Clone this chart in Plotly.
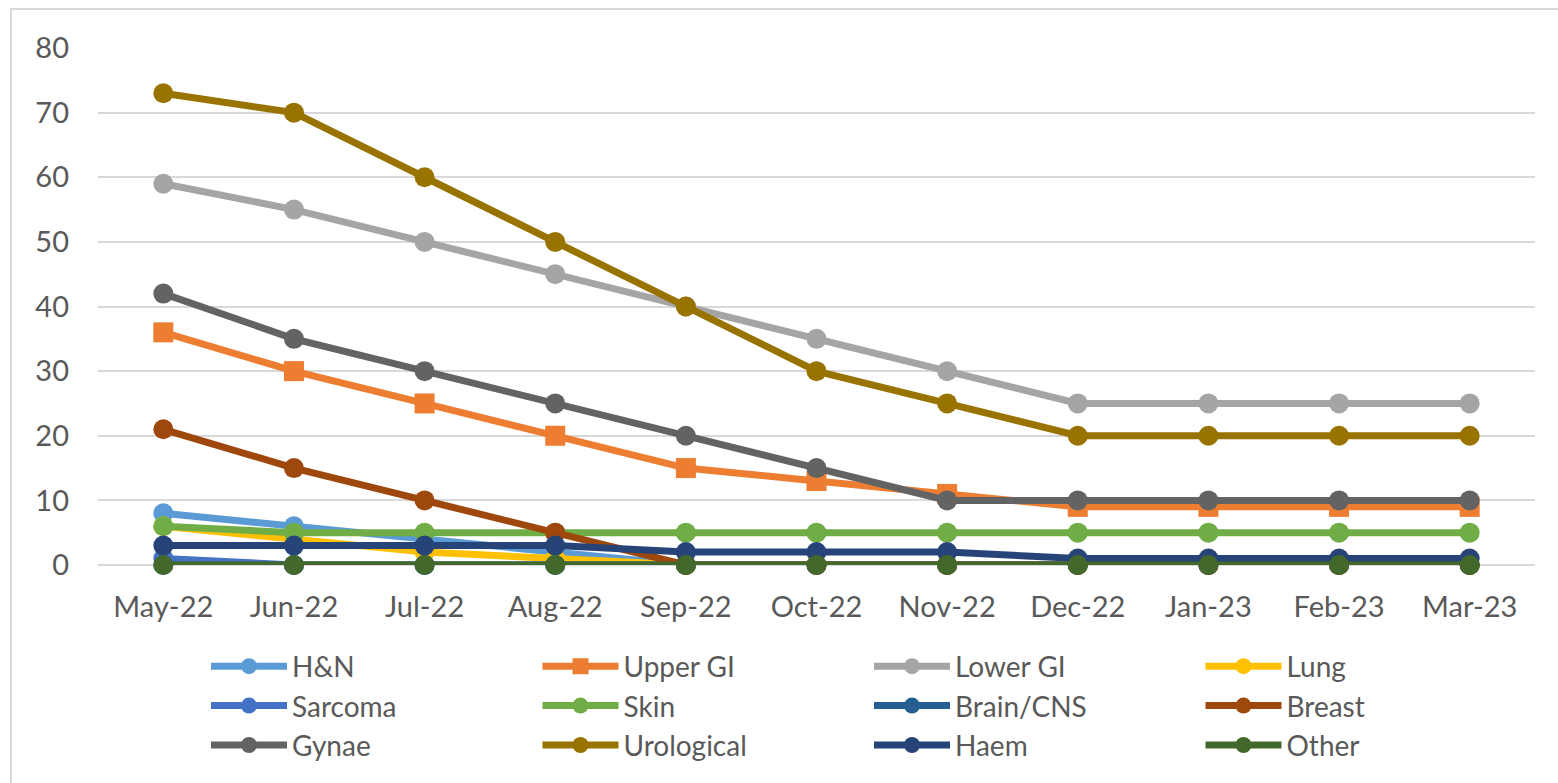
import plotly.graph_objects as go

months = ["May-22", "Jun-22", "Jul-22", "Aug-22", "Sep-22", "Oct-22",
          "Nov-22", "Dec-22", "Jan-23", "Feb-23", "Mar-23"]

hn = [8, 6, 4, 2, 0, 0, 0, 0, 0, 0, 0]
upper_gi = [36, 30, 25, 20, 15, 13, 11, 9, 9, 9, 9]
lower_gi = [59, 55, 50, 45, 40, 35, 30, 25, 25, 25, 25]
lung = [6, 4, 2, 1, 0, 0, 0, 0, 0, 0, 0]
sarcoma = [1, 0, 0, 0, 0, 0, 0, 0, 0, 0, 0]
skin = [6, 5, 5, 5, 5, 5, 5, 5, 5, 5, 5]
brain_cns = [0, 0, 0, 0, 0, 0, 0, 0, 0, 0, 0]
breast = [21, 15, 10, 5, 0, 0, 0, 0, 0, 0, 0]
gynae = [42, 35, 30, 25, 20, 15, 10, 10, 10, 10, 10]
urological = [73, 70, 60, 50, 40, 30, 25, 20, 20, 20, 20]
haem = [3, 3, 3, 3, 2, 2, 2, 1, 1, 1, 1]
other = [0, 0, 0, 0, 0, 0, 0, 0, 0, 0, 0]

series = [
    ("H&N", hn, "#5B9BD5", "circle"),
    ("Upper GI", upper_gi, "#ED7D31", "square"),
    ("Lower GI", lower_gi, "#A5A5A5", "circle"),
    ("Lung", lung, "#FFC000", "circle"),
    ("Sarcoma", sarcoma, "#4472C4", "circle"),
    ("Skin", skin, "#70AD47", "circle"),
    ("Brain/CNS", brain_cns, "#255E91", "circle"),
    ("Breast", breast, "#9E480E", "circle"),
    ("Gynae", gynae, "#636363", "circle"),
    ("Urological", urological, "#997300", "circle"),
    ("Haem", haem, "#264478", "circle"),
    ("Other", other, "#43682B", "circle"),
]

FONT = "Lato, 'Open Sans', sans-serif"
TXT = "#595959"

fig = go.Figure()
for name, vals, color, sym in series:
    fig.add_trace(go.Scatter(
        x=months, y=vals, name=name, mode="lines+markers",
        line=dict(color=color, width=7),
        marker=dict(color=color, size=20, symbol=sym),
        cliponaxis=False,
    ))

W, H = 1558, 783
L, R, T, B = 98, 23, 48, 218
pw, ph = W - L - R, H - T - B

def px(x):
    return (x - L) / pw

def py(y):
    return (H - B - y) / ph

fig.add_shape(type="rect", xref="paper", yref="paper",
              x0=px(11), x1=px(1620), y0=py(9), y1=py(820),
              line=dict(color="#D9D9D9", width=2), layer="below")

fig.update_layout(
    width=W, height=H,
    margin=dict(l=L, r=R, t=T, b=B, pad=0),
    paper_bgcolor="white", plot_bgcolor="white",
    font=dict(family=FONT, size=29, color=TXT),
    showlegend=True,
    legend=dict(
        orientation="h", xref="container", yref="container",
        x=206 / W, xanchor="left", y=1 - 641.5 / H, yanchor="top",
        entrywidth=240.5, entrywidthmode="pixels", itemwidth=76,
        font=dict(family=FONT, size=28, color=TXT),
        bgcolor="rgba(0,0,0,0)", tracegroupgap=0,
    ),
    xaxis=dict(
        type="category", range=[-0.5, 10.5], showgrid=False,
        showline=False, zeroline=False, ticks="",
        tickfont=dict(family=FONT, size=29, color=TXT),
        ticklabelstandoff=22,
    ),
    yaxis=dict(
        range=[0, 80], dtick=10, showgrid=True, gridcolor="#D9D9D9", gridwidth=2,
        zeroline=True, zerolinecolor="#D9D9D9", zerolinewidth=2,
        showline=False, ticks="",
        tickfont=dict(family=FONT, size=29, color=TXT),
        ticklabelstandoff=28,
    ),
)

fig.write_html("out.html", config={"displayModeBar": False},
               post_script="document.body.style.margin='0';")
